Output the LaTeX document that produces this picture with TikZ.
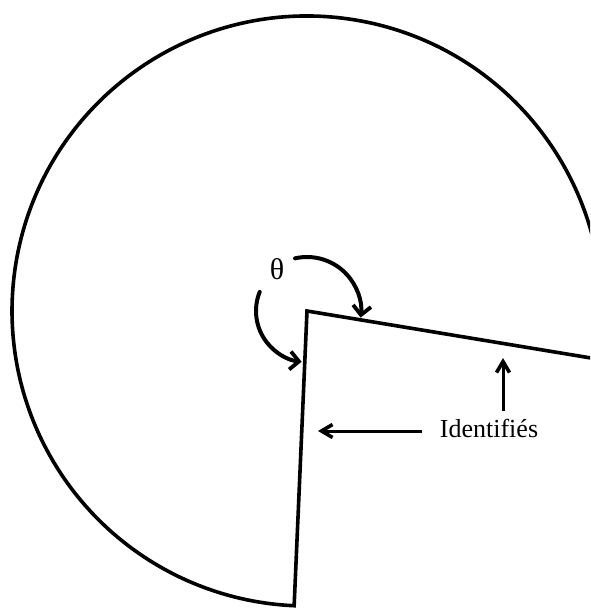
\documentclass[tikz,border=0pt]{standalone}
\usepackage{fontspec}
\setmainfont{Liberation Serif}
\usetikzlibrary{arrows.meta}
\begin{document}
\begin{tikzpicture}[x=1pt,y=-1pt,
  outline/.style={line width=3.6pt},
  curvearrow/.style={line width=4pt,line cap=round,-{Straight Barb[length=9pt,width=18pt,line width=3.8pt]}},
  straightarrow/.style={line width=3pt,-{Straight Barb[length=11pt,width=13pt,line width=3.6pt]}},
  label/.style={font=\fontsize{26}{28}\selectfont,inner sep=0pt},
  greek/.style={font=\fontsize{30}{32}\selectfont,inner sep=0pt}]
\useasboundingbox (0,0) rectangle (590,609);
\clip (0,0) rectangle (590,609);
\coordinate (V) at (307,311);
% disc with the sector cut away
\draw[outline] (V) -- ++(9.4:295) arc[start angle=9.4,end angle=-267.5,radius=295] -- cycle;
% angle arrows
\draw[curvearrow] ([shift={(-102.8:54)}]V) arc[start angle=-102.8,end angle=7,radius=54];
\draw[curvearrow] ([shift={(202:51)}]V) arc[start angle=202,end angle=96,radius=51];
\node[greek] (theta) at (277,269) {θ};
% identification label
\node[label] (ident) at (489,428) {Identifiés};
\coordinate (leftend) at (318,431);
\coordinate (upend) at (503,358);
\draw[straightarrow] (ident.west |- leftend) ++(-18,0) -- (leftend);
\draw[straightarrow] (ident.north -| upend) ++(0,-8) -- (upend);
\end{tikzpicture}
\end{document}
